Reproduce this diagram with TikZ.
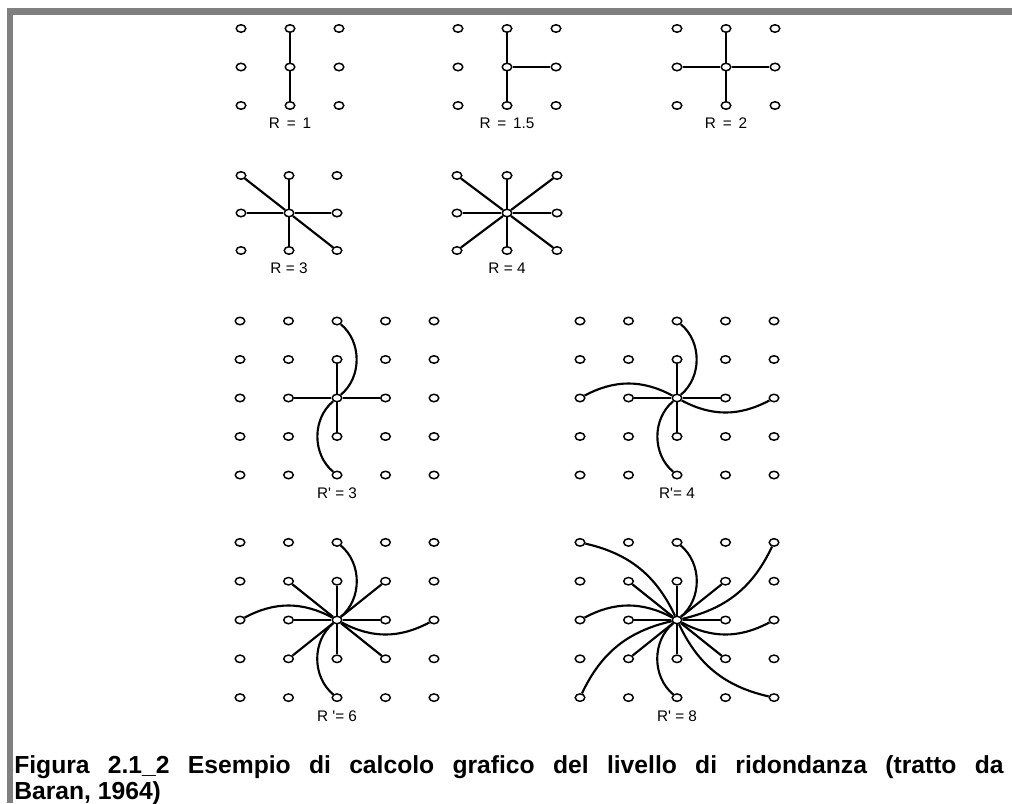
\documentclass[tikz,border=0pt]{standalone}
\usepackage{fontspec}
\setmainfont{Liberation Sans}
\usetikzlibrary{shapes.geometric, positioning}
\definecolor{framegray}{RGB}{128, 128, 128}
\tikzstyle{dot} = [ellipse, draw, line width=1.1pt, fill=white, minimum width=7.2pt, minimum height=5.6pt, inner sep=0pt]
\tikzstyle{link} = [line width=1.6pt]
\tikzstyle{rlabel} = [font=\fontsize{11.5}{13}\selectfont, inner sep=1pt]
\tikzstyle{caption} = [anchor=north west, text width=742pt, align=justify, inner sep=0pt, font=\fontsize{18.5}{19.5}\selectfont\bfseries]

\begin{document}
\begin{tikzpicture}[x=0.75pt, y=-0.75pt]
    \useasboundingbox (0,0) rectangle (1012,803);

    % Frame
    \fill[framegray] (7,8) rectangle (1012,15);
    \fill[framegray] (7,8) rectangle (13,803);

    % R = 1
    \begin{scope}[shift={(290,67)}]
        \foreach \i in {1,2,3} \foreach \j in {1,2,3}
            \node[dot] (A\i\j) at ({(\i-2)*49},{(\j-2)*38.5}) {};
    \end{scope}
    \foreach \n in {21,23} \draw[link] (A22) -- (A\n);
    \node[rlabel, below=5pt of A23] (labA) {R \,=\, 1};

    % R = 1.5
    \begin{scope}[shift={(507,67)}]
        \foreach \i in {1,2,3} \foreach \j in {1,2,3}
            \node[dot] (B\i\j) at ({(\i-2)*49},{(\j-2)*38.5}) {};
    \end{scope}
    \foreach \n in {21,23,32} \draw[link] (B22) -- (B\n);
    \node[rlabel, below=5pt of B23] (labB) {R \,=\, 1.5};

    % R = 2
    \begin{scope}[shift={(726,67)}]
        \foreach \i in {1,2,3} \foreach \j in {1,2,3}
            \node[dot] (C\i\j) at ({(\i-2)*49},{(\j-2)*38.5}) {};
    \end{scope}
    \foreach \n in {21,23,12,32} \draw[link] (C22) -- (C\n);
    \node[rlabel, below=5pt of C23] (labC) {R \,=\, 2};

    % R = 3
    \begin{scope}[shift={(289,213)}]
        \foreach \i in {1,2,3} \foreach \j in {1,2,3}
            \node[dot] (D\i\j) at ({(\i-2)*48},{(\j-2)*37.5}) {};
    \end{scope}
    \foreach \n in {21,23,12,32,11,33} \draw[link] (D22) -- (D\n);
    \node[rlabel, below=5pt of D23] (labD) {R = 3};

    % R = 4
    \begin{scope}[shift={(507,213)}]
        \foreach \i in {1,2,3} \foreach \j in {1,2,3}
            \node[dot] (E\i\j) at ({(\i-2)*50},{(\j-2)*37.5}) {};
    \end{scope}
    \foreach \n in {21,23,12,32,11,33,13,31} \draw[link] (E22) -- (E\n);
    \node[rlabel, below=5pt of E23] (labE) {R = 4};

    % R' = 3
    \begin{scope}[shift={(337,398)}]
        \foreach \i in {1,...,5} \foreach \j in {1,...,5}
            \node[dot] (F\i\j) at ({(\i-3)*48.5},{(\j-3)*38.5}) {};
    \end{scope}
    \foreach \n in {32,34,23,43} \draw[link] (F33) -- (F\n);
    \foreach \n in {31,35} \draw[link] (F33) to[bend right=50] (F\n);
    \node[rlabel, below=5pt of F35] (labF) {R\textquotesingle\ = 3};

    % R' = 4
    \begin{scope}[shift={(677,398)}]
        \foreach \i in {1,...,5} \foreach \j in {1,...,5}
            \node[dot] (G\i\j) at ({(\i-3)*48.5},{(\j-3)*38.5}) {};
    \end{scope}
    \foreach \n in {32,34,23,43} \draw[link] (G33) -- (G\n);
    \foreach \n in {31,35} \draw[link] (G33) to[bend right=50] (G\n);
    \foreach \n in {13,53} \draw[link] (G33) to[bend right=28] (G\n);
    \node[rlabel, below=5pt of G35] (labG) {R\textquotesingle= 4};

    % R' = 6
    \begin{scope}[shift={(337,620)}]
        \foreach \i in {1,...,5} \foreach \j in {1,...,5}
            \node[dot] (H\i\j) at ({(\i-3)*48.5},{(\j-3)*38.8}) {};
    \end{scope}
    \foreach \n in {32,34,23,43,22,42,24,44} \draw[link] (H33) -- (H\n);
    \foreach \n in {31,35} \draw[link] (H33) to[bend right=50] (H\n);
    \foreach \n in {13,53} \draw[link] (H33) to[bend right=28] (H\n);
    \node[rlabel, below=5pt of H35] (labH) {R \textquotesingle= 6};

    % R' = 8
    \begin{scope}[shift={(677,620)}]
        \foreach \i in {1,...,5} \foreach \j in {1,...,5}
            \node[dot] (K\i\j) at ({(\i-3)*48.5},{(\j-3)*38.8}) {};
    \end{scope}
    \foreach \n in {32,34,23,43,22,42,24,44} \draw[link] (K33) -- (K\n);
    \foreach \n in {31,35} \draw[link] (K33) to[bend right=50] (K\n);
    \foreach \n in {13,53} \draw[link] (K33) to[bend right=28] (K\n);
    \foreach \n in {11,51,15,55} \draw[link] (K33) to[bend right=26] (K\n);
    \node[rlabel, below=5pt of K35] (labK) {R\textquotesingle\ = 8};

    % Caption
    \node[caption] (cap) at (14,755) {Figura 2.1\_2 Esempio di calcolo grafico del livello di ridondanza (tratto da\linebreak Baran, 1964)};
\end{tikzpicture}
\end{document}
